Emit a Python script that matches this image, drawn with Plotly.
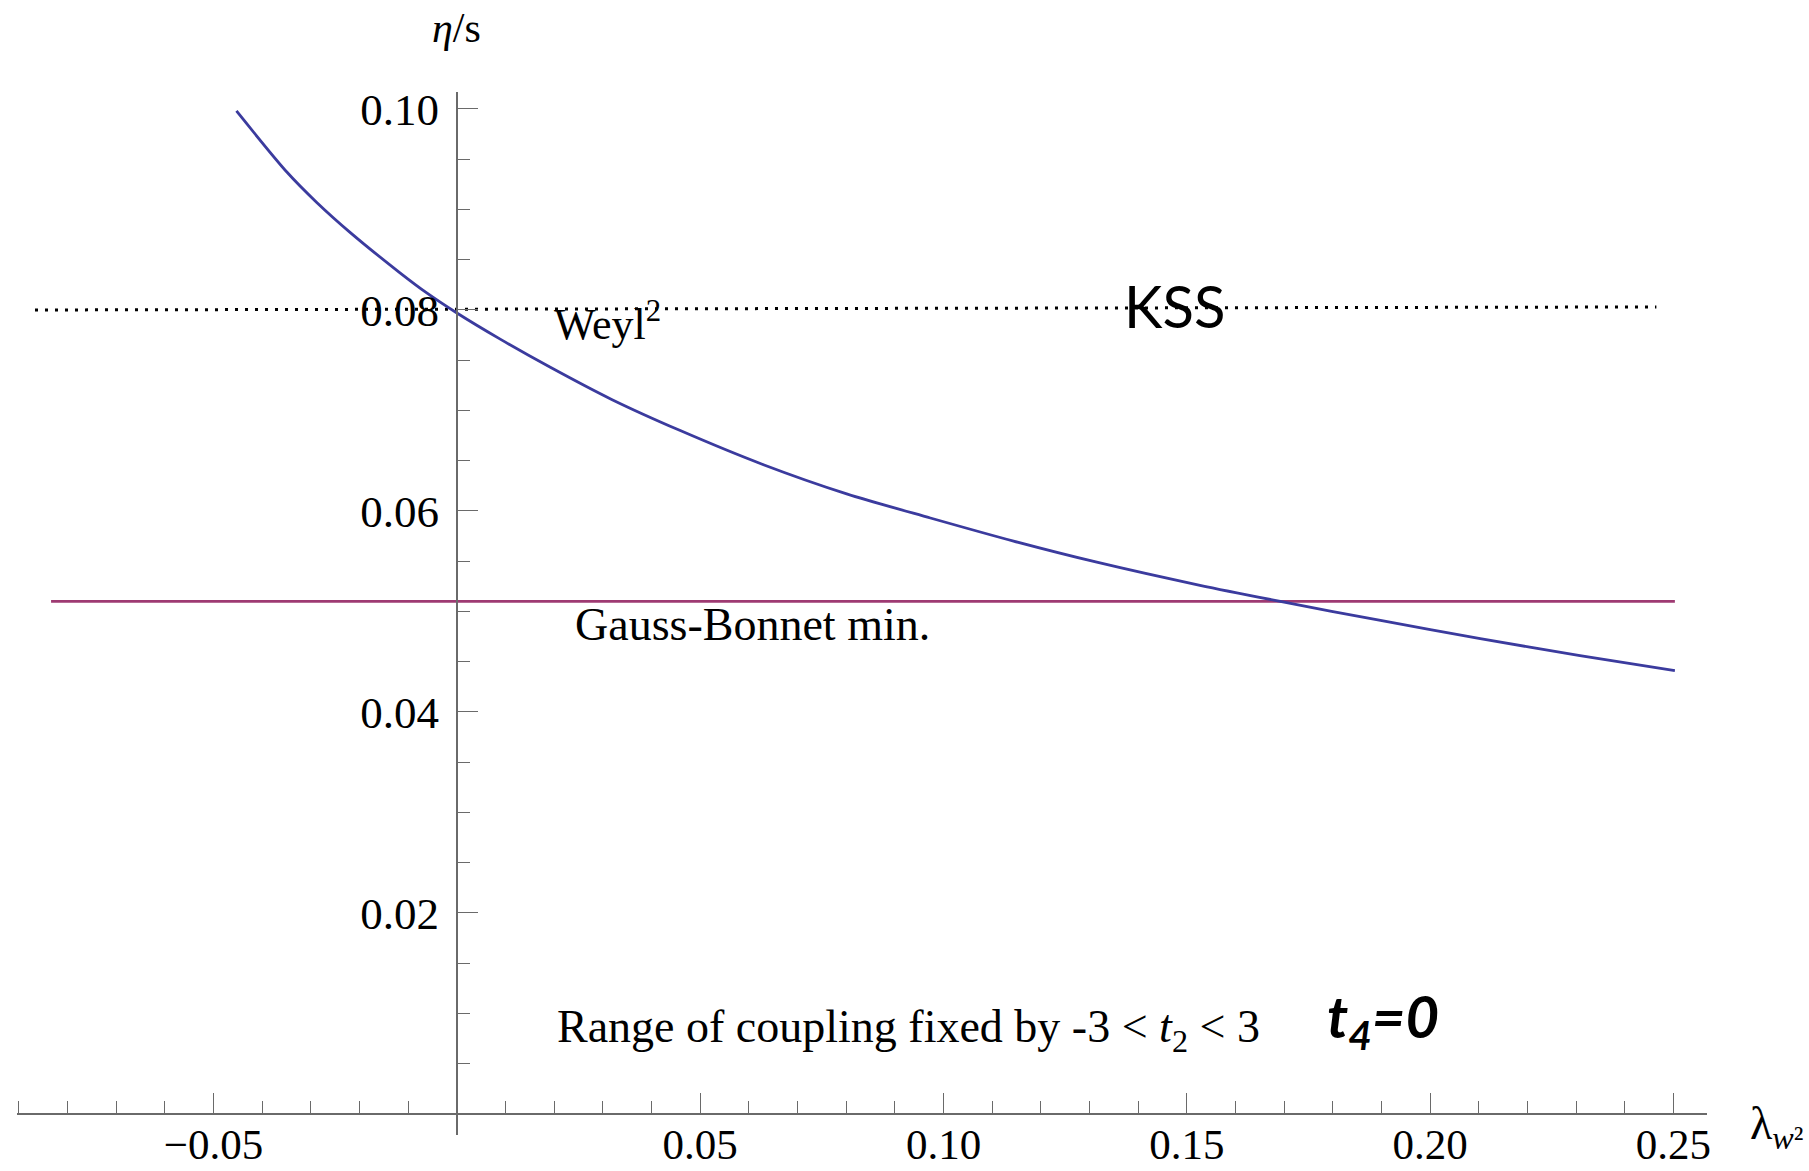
import plotly.graph_objects as go

# ---- data ----
lam = [-0.0453, -0.0349, -0.0288, -0.0219, -0.0117, -0.0062, 0.0, 0.0089, 0.0192,
       0.0318, 0.0459, 0.0630, 0.0801, 0.0973, 0.1144, 0.1315, 0.1527, 0.1692,
       0.1898, 0.2103, 0.2308, 0.2503]
eta_s = [0.0998, 0.0937, 0.0907, 0.0877, 0.0837, 0.0817, 0.0797, 0.0771, 0.0743,
         0.0711, 0.0680, 0.0646, 0.0617, 0.0593, 0.0570, 0.0549, 0.0526, 0.0510,
         0.0491, 0.0473, 0.0456, 0.0441]

kss_x = [-0.0867, 0.2465]
kss_y = [0.0800, 0.0803]

gb_x = [-0.0834, 0.2503]
gb_y = [0.0510, 0.0510]

x_tickvals = [-0.05, 0.05, 0.10, 0.15, 0.20, 0.25]
x_ticktext = ["\u22120.05", "0.05", "0.10", "0.15", "0.20", "0.25"]
y_tickvals = [0.02, 0.04, 0.06, 0.08, 0.10]
y_ticktext = ["0.02", "0.04", "0.06", "0.08", "0.10"]

x_range = [-0.0904, 0.2569]
y_range = [-0.0021, 0.10169]

SERIF = "Liberation Serif, Times New Roman, serif"
SANS = "Lato, Open Sans, sans-serif"
AX = "#6a6a6a"

fig = go.Figure()
fig.add_trace(go.Scatter(x=kss_x, y=kss_y, mode="lines",
                         line=dict(color="black", width=3, dash="3px,7px"),
                         hoverinfo="skip"))
fig.add_trace(go.Scatter(x=gb_x, y=gb_y, mode="lines",
                         line=dict(color="#9E3A72", width=2.6),
                         hoverinfo="skip"))
fig.add_trace(go.Scatter(x=lam, y=eta_s, mode="lines",
                         line=dict(color="#3B3B9E", width=2.8, shape="spline", smoothing=0.8),
                         hoverinfo="skip"))

xpos = (0 - y_range[0]) / (y_range[1] - y_range[0])
ypos = (0 - x_range[0]) / (x_range[1] - x_range[0])

fig.update_layout(
    width=1809, height=1171,
    margin=dict(l=17, r=102, t=92, b=36),
    paper_bgcolor="white", plot_bgcolor="white",
    showlegend=False,
    xaxis=dict(range=x_range, anchor="free", position=xpos, side="bottom", automargin=False,
               showgrid=False, zeroline=False, showline=True, linecolor=AX, linewidth=1.6,
               tickmode="array", tickvals=x_tickvals, ticktext=x_ticktext,
               ticks="inside", ticklen=20, tickwidth=1.4, tickcolor=AX,
               tickfont=dict(family=SERIF, size=43, color="black"),
               ticklabelstandoff=-7,
               minor=dict(dtick=0.01, tick0=0, ticks="inside", ticklen=12,
                          tickwidth=1.2, tickcolor=AX, showgrid=False)),
    yaxis=dict(range=y_range, anchor="free", position=ypos, side="left", automargin=False,
               showgrid=False, zeroline=False, showline=True, linecolor=AX, linewidth=1.6,
               tickmode="array", tickvals=y_tickvals, ticktext=y_ticktext,
               ticks="inside", ticklen=20, tickwidth=1.4, tickcolor=AX,
               tickfont=dict(family=SERIF, size=45, color="black"),
               ticklabelstandoff=8,
               minor=dict(dtick=0.005, tick0=0, ticks="inside", ticklen=12,
                          tickwidth=1.2, tickcolor=AX, showgrid=False)),
)

ann = [
    dict(x=0.2598, y=1.0611, xref="paper", yref="paper", text="<i>η</i>/s",
         font=dict(family=SERIF, size=42, color="black"), xanchor="center", yanchor="middle"),
    dict(x=0.0195, y=0.0789, xref="x", yref="y", text="Weyl<sup>2</sup>",
         font=dict(family=SERIF, size=44, color="black"), xanchor="left", yanchor="middle"),
    dict(x=0.1474, y=0.0804, xref="x", yref="y", text="KSS",
         font=dict(family=SANS, size=58, color="black"), xanchor="center", yanchor="middle"),
    dict(x=0.0239, y=0.0487, xref="x", yref="y", text="Gauss-Bonnet min.",
         font=dict(family=SERIF, size=46, color="black"), xanchor="left", yanchor="middle"),
    dict(x=0.0202, y=0.00838, xref="x", yref="y",
         text="Range of coupling fixed by -3 &lt; <i>t</i><sub>2</sub> &lt; 3",
         font=dict(family=SERIF, size=46, color="black"), xanchor="left", yanchor="middle"),
    dict(x=0.1904, y=0.0093, xref="x", yref="y", text="<b><i>t<sub>4</sub>=0</i></b>",
         font=dict(family=SANS, size=58, color="black"), xanchor="center", yanchor="middle"),
    dict(x=1.0243, y=0.008, xref="paper", yref="paper", text="λ<sub><i>w</i>²</sub>",
         font=dict(family=SERIF, size=46, color="black"), xanchor="left", yanchor="middle"),
]
for a in ann:
    a["showarrow"] = False
fig.update_layout(annotations=ann)

fig.write_html("out.html")
